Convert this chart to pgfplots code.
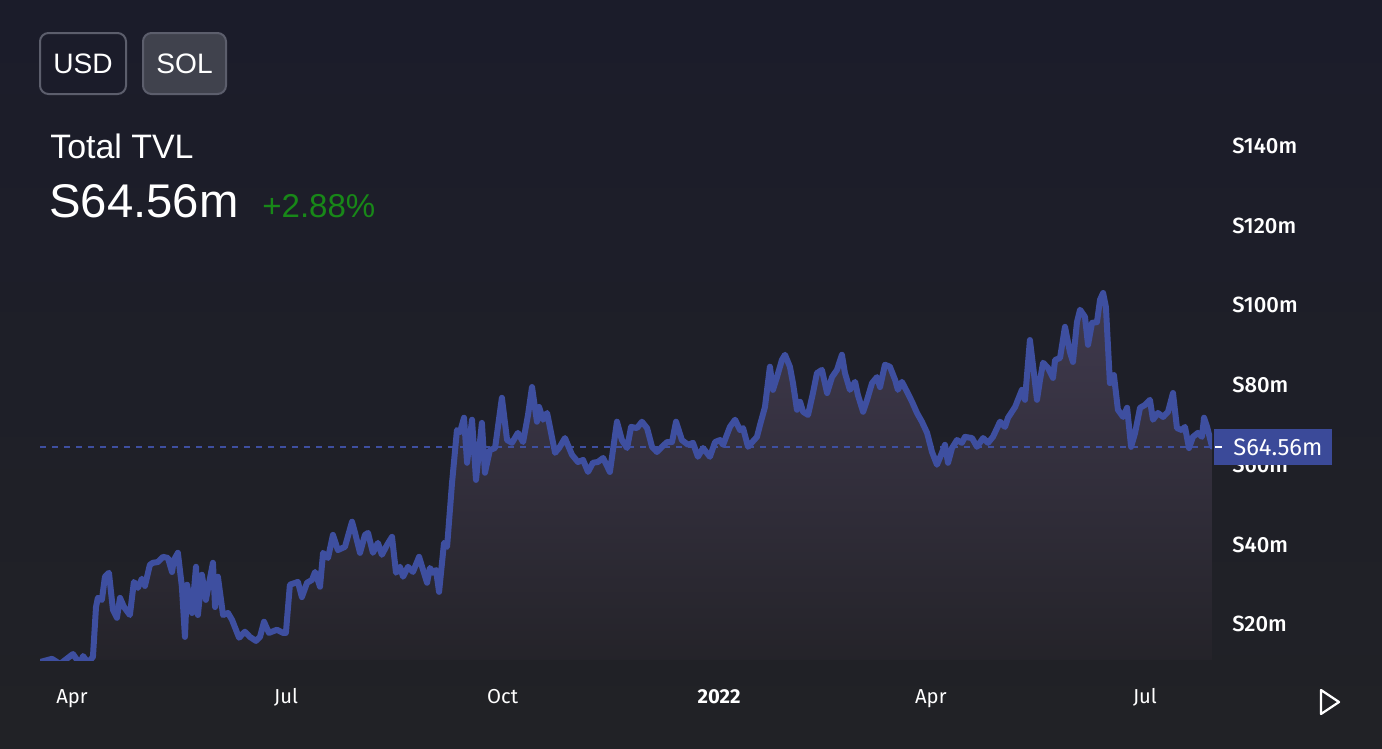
\documentclass[border=0pt]{standalone}
\usepackage{fontspec}
\setmainfont{Liberation Sans}
\newfontfamily\fira{Fira Sans}
\newfontfamily\firamed{Fira Sans Medium}
\usepackage{pgfplots}
\pgfplotsset{compat=1.18}

\definecolor{bgtop}{RGB}{27,28,42}
\definecolor{bgbot}{RGB}{33,34,38}
\definecolor{tvlline}{RGB}{62,79,160}
\definecolor{filltop}{RGB}{64,58,78}
\definecolor{fillbot}{RGB}{36,35,41}
\definecolor{btnedge}{RGB}{92,94,108}
\definecolor{btnsol}{RGB}{64,66,77}
\definecolor{upgreen}{RGB}{24,136,24}
\definecolor{tagbox}{RGB}{59,74,153}

% days since 1 Apr 2021, TVL in millions
\pgfplotstableread{
day tvl
-13.6 10.5
-8.5 11.3
-5.1 10.0
0.4 12.5
3.4 10.0
4.7 12.0
6.8 10.3
8.9 11.8
10.2 24.3
11.0 26.6
12.7 26.1
14.0 31.9
15.7 32.9
17.4 23.6
19.1 21.6
20.4 26.6
22.1 24.3
24.6 22.3
26.3 30.6
28.0 29.1
29.7 31.4
31.0 29.6
33.1 34.9
34.4 35.4
36.5 35.6
38.7 36.9
40.8 36.6
42.5 33.1
43.3 36.1
45.0 37.9
46.7 29.4
48.0 16.8
48.9 29.9
51.0 22.8
52.7 34.4
53.5 22.3
55.2 32.4
56.9 26.1
59.9 35.4
60.8 24.3
62.0 31.9
64.2 22.3
66.3 22.8
68.0 21.1
71.0 16.6
73.5 18.1
75.6 16.8
78.2 15.8
79.9 16.8
81.6 20.6
83.7 17.8
87.1 18.6
89.7 17.8
90.9 17.8
92.6 29.9
96.0 30.6
97.7 26.8
99.9 30.4
102.0 31.1
103.3 33.1
105.4 29.4
106.7 37.9
108.8 36.6
110.9 42.4
113.0 38.6
116.0 39.4
119.0 45.7
120.3 42.9
122.4 37.9
124.5 42.4
125.8 42.9
127.9 37.9
130.0 40.4
131.7 37.4
133.9 39.9
136.0 41.9
137.7 32.9
139.4 34.4
140.7 31.9
142.8 34.4
144.9 33.1
147.5 36.9
149.2 33.6
150.9 30.4
152.1 34.1
153.4 32.9
154.7 33.6
156.0 28.1
158.1 40.4
159.4 39.4
161.5 55.4
163.6 68.7
164.9 68.2
166.6 71.8
167.9 60.5
170.0 71.3
171.7 56.2
174.2 70.5
175.5 58.0
177.6 63.7
179.8 64.2
182.7 76.8
184.9 66.2
187.0 65.5
189.5 68.0
191.7 65.7
193.8 72.5
195.5 79.5
197.6 70.8
198.5 74.5
200.2 71.3
201.9 73.0
205.3 63.0
207.0 64.2
209.5 66.7
212.5 62.5
215.0 60.7
217.2 61.2
219.3 58.2
221.4 60.5
223.5 60.7
225.7 61.7
228.6 58.2
231.6 70.8
233.7 66.2
235.9 64.2
237.6 69.5
240.1 69.2
242.2 70.8
244.4 69.2
246.5 64.5
248.6 63.2
250.7 64.5
252.9 65.7
255.0 65.7
256.7 70.8
259.2 66.2
261.8 65.0
263.9 65.5
266.0 62.0
268.2 64.2
271.1 62.0
273.3 65.7
275.4 66.2
276.7 65.0
279.6 69.5
281.8 71.3
283.9 68.7
285.2 69.2
287.3 64.5
291.1 67.0
292.4 70.0
294.5 74.5
296.6 84.6
297.9 78.8
299.6 82.0
301.7 86.3
303.0 87.6
305.1 84.6
306.4 80.5
308.1 73.8
309.4 75.8
310.7 73.3
312.8 72.5
314.9 78.0
316.6 83.0
318.7 83.8
320.9 78.0
323.0 82.0
325.1 83.8
327.2 87.6
328.5 83.0
330.6 78.8
332.8 80.8
334.0 77.5
336.2 73.3
337.9 76.3
340.0 80.5
342.1 82.0
343.4 79.5
345.5 85.1
347.6 84.6
349.8 81.3
351.0 78.8
352.7 80.8
354.9 78.3
357.0 75.8
359.1 73.0
361.2 70.8
363.4 68.0
365.5 63.2
367.6 60.0
369.7 63.0
371.0 65.0
372.3 60.5
374.0 64.2
376.1 66.2
378.2 65.5
379.5 67.0
382.5 66.7
384.6 64.5
387.2 66.7
389.3 65.5
391.4 67.0
394.4 70.8
396.5 69.5
397.8 71.8
400.8 74.5
403.7 78.8
405.0 76.3
407.1 91.3
408.8 83.0
410.1 76.3
411.4 81.3
412.7 85.6
414.8 84.3
416.9 81.8
417.8 86.3
419.9 86.8
422.0 94.6
424.1 88.3
425.4 85.8
427.1 95.8
428.4 98.9
430.5 97.1
431.8 90.1
433.5 95.6
435.6 95.8
436.9 101.4
438.2 103.1
439.4 99.6
441.1 80.5
442.8 82.5
444.5 73.8
446.7 72.0
448.4 74.3
450.1 64.5
451.8 68.0
453.9 74.3
456.0 75.0
458.1 76.3
459.4 71.3
461.5 73.0
463.7 72.0
465.8 73.3
467.9 78.0
469.6 69.2
471.7 68.7
473.0 69.5
474.7 64.2
476.4 67.0
478.5 68.0
480.2 67.0
481.1 71.8
482.4 69.5
484.5 64.56
}\tvltable

\begin{document}
\begin{tikzpicture}
% canvas in reference pixels, origin top left, 1 px = 0.2 mm
\begin{scope}[x=0.2mm,y=-0.2mm]
\path[use as bounding box] (0,0) rectangle (1382,748);
\shade[top color=bgtop, bottom color=bgbot] (0,0) rectangle (1382,748);

% currency buttons
\draw[btnedge, line width=0.4mm, rounded corners=1.7mm, fill=bgtop] (40,33) rectangle (126,94);
\draw[btnedge, line width=0.4mm, rounded corners=1.7mm, fill=btnsol] (143,33) rectangle (226,94);
\node[white, inner sep=0pt] at (83,64) {\fontsize{16pt}{18pt}\selectfont USD};
\node[white, inner sep=0pt] at (184.5,64) {\fontsize{16pt}{18pt}\selectfont SOL};

% headline
\node[white, anchor=base west, inner sep=0pt] at (50,158) {\fontsize{19.3pt}{21pt}\selectfont Total TVL};
\node[white, anchor=base west, inner sep=0pt] at (49,217) {\fontsize{26.9pt}{29pt}\selectfont S64.56m};
\node[upgreen, anchor=base west, inner sep=0pt] at (262,217) {\fontsize{18.8pt}{20pt}\selectfont +2.88\%};
\end{scope}

\begin{axis}[
    at={(8mm,-132mm)}, anchor=south west,
    scale only axis,
    width=234.4mm, height=106mm,
    xmin=-13.6, xmax=484.5,
    ymin=11, ymax=144,
    axis line style={draw=none},
    major tick length=0pt,
    xtick={0,91,183,275,365,456},
    xticklabels={Apr,Jul,Oct,\textbf{2022},Apr,Jul},
    xticklabel style={anchor=base, yshift=-8.6mm, inner sep=0pt, text=white,
        font=\fira\fontsize{11.5pt}{12pt}\selectfont},
    ytick={20,40,60,80,100,120,140},
    yticklabel pos=right,
    yticklabel={S\pgfmathprintnumber{\tick}m},
    yticklabel style={anchor=west, xshift=4mm, inner sep=0pt, text=white,
        font=\firamed\fontsize{12.5pt}{13pt}\selectfont},
    /pgf/number format/assume math mode=true,
]
\addplot[draw=none, top color=filltop, bottom color=fillbot] table[x=day, y=tvl] {\tvltable} \closedcycle;
\addplot[tvlline, line width=0.4mm, dash pattern=on 1.2mm off 1.2mm] coordinates {(-13.6,64.56) (484.5,64.56)};
\addplot[tvlline, line width=1.2mm, line join=round, line cap=round] table[x=day, y=tvl] {\tvltable};
\end{axis}

\begin{scope}[x=0.2mm,y=-0.2mm]
% last value tag
\fill[tagbox] (1214,429) rectangle (1332,465);
\draw[white, line width=0.4mm] (1215,447) -- (1222,447);
\node[white, anchor=west, inner sep=0pt] at (1233,447) {\fira\fontsize{13.5pt}{14pt}\selectfont S64.56m};

% play button
\draw[white, line width=0.45mm, line join=round] (1321,690) -- (1339,702) -- (1321,714) -- cycle;
\end{scope}
\end{tikzpicture}
\end{document}
